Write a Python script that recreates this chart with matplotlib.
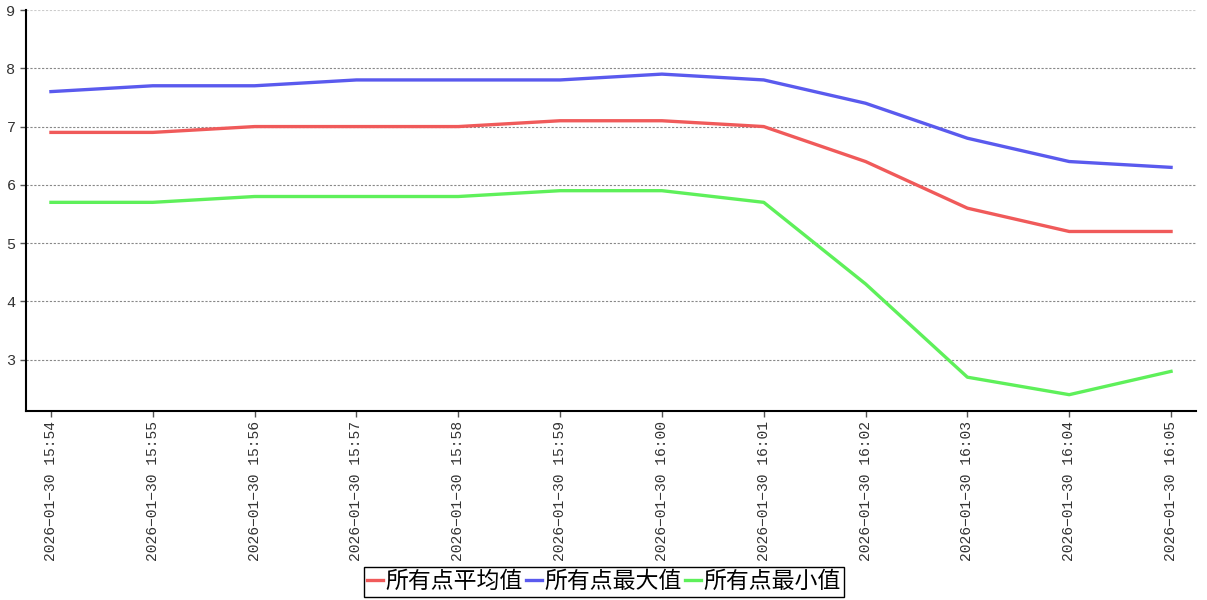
import matplotlib
matplotlib.use("Agg")
import matplotlib.pyplot as plt

# data
times = ["2026-01-30 15:54", "2026-01-30 15:55", "2026-01-30 15:56",
         "2026-01-30 15:57", "2026-01-30 15:58", "2026-01-30 15:59",
         "2026-01-30 16:00", "2026-01-30 16:01", "2026-01-30 16:02",
         "2026-01-30 16:03", "2026-01-30 16:04", "2026-01-30 16:05"]
avg_vals = [6.9, 6.9, 7.0, 7.0, 7.0, 7.1, 7.1, 7.0, 6.4, 5.6, 5.2, 5.2]
max_vals = [7.6, 7.7, 7.7, 7.8, 7.8, 7.8, 7.9, 7.8, 7.4, 6.8, 6.4, 6.3]
min_vals = [5.7, 5.7, 5.8, 5.8, 5.8, 5.9, 5.9, 5.7, 4.3, 2.7, 2.4, 2.8]
y_ticks = [3, 4, 5, 6, 7, 8, 9]

plt.rcParams['font.family'] = ['Noto Sans CJK SC', 'DejaVu Sans']

fig = plt.figure(figsize=(12.07, 6.0), dpi=100)
fig.patch.set_facecolor('white')
ax = fig.add_axes([26 / 1207, (600 - 411) / 600, (1196 - 26) / 1207, 401 / 600])

x = list(range(len(times)))
ax.plot(x, avg_vals, color='#f05a5a', lw=2.4, label='所有点平均值')
ax.plot(x, max_vals, color='#5a5aee', lw=2.4, label='所有点最大值')
ax.plot(x, min_vals, color='#5ef05a', lw=2.4, label='所有点最小值')

ax.set_xlim(-0.245, 11.245)
ax.set_ylim(2.12, 9.0)
ax.set_yticks(y_ticks)
ax.set_xticks(x)
ax.set_xticklabels([t.replace('-', '\u2212') for t in times],
                   rotation=90, family=['Liberation Mono', 'DejaVu Sans'], fontsize=10.5)
for lab in ax.get_yticklabels():
    lab.set_family(['Liberation Mono', 'DejaVu Sans'])
    lab.set_fontsize(11)

for yv in y_ticks:
    c = '#cccccc' if yv == 9 else '#888888'
    ax.axhline(yv, color=c, lw=0.8, ls=(0, (2, 1.5)), zorder=0)

for s in ['top', 'right']:
    ax.spines[s].set_visible(False)
ax.spines['left'].set_linewidth(1.5)
ax.spines['bottom'].set_linewidth(1.5)
ax.tick_params(axis='both', length=4, width=1, color='#555555', labelcolor='#333333')

leg = fig.legend(loc='lower center', bbox_to_anchor=(604 / 1207, 0.0), ncol=3,
                 fontsize=16.5, frameon=True, fancybox=False, framealpha=1,
                 handlelength=0.7, handletextpad=0.1, columnspacing=0.15,
                 borderpad=0.15, borderaxespad=0.15)
leg.get_frame().set_edgecolor('black')
leg.get_frame().set_linewidth(1.0)

fig.savefig('out.png', dpi=100, facecolor='white')
